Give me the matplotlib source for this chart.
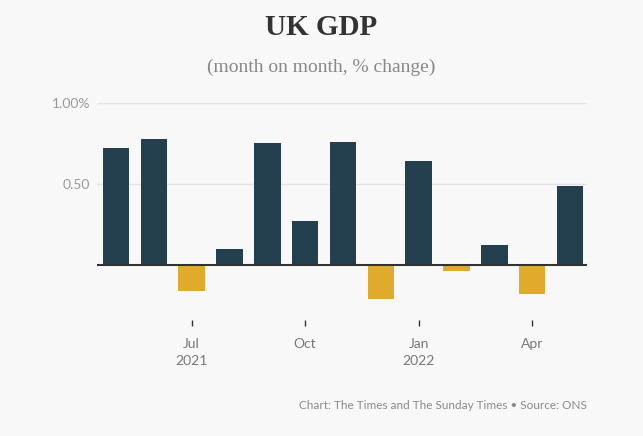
import matplotlib
matplotlib.use("Agg")
import matplotlib.pyplot as plt
import numpy as np

months = ["May 2021", "Jun 2021", "Jul 2021", "Aug 2021", "Sep 2021", "Oct 2021",
          "Nov 2021", "Dec 2021", "Jan 2022", "Feb 2022", "Mar 2022", "Apr 2022", "May 2022"]
gdp_change = [0.72, 0.78, -0.16, 0.10, 0.75, 0.27, 0.76, -0.21, 0.64, -0.04, 0.12, -0.18, 0.49]
tick_positions = [2, 5, 8, 11]
tick_labels = ["Jul\n2021", "Oct", "Jan\n2022", "Apr"]
ytick_values = [0.5, 1.0]
ytick_labels = ["0.50", "1.00%"]

BG = "#f8f8f8"
POS = "#24404f"
NEG = "#e0aa2c"

fig = plt.figure(figsize=(6.43, 4.36), dpi=100, facecolor=BG)
ax = fig.add_axes([0.151, 0.266, 0.762, 0.498], facecolor=BG)

x = np.arange(len(months))
colors = [POS if v >= 0 else NEG for v in gdp_change]
ax.bar(x, gdp_change, width=0.7, color=colors, zorder=3)

ax.set_xlim(-0.5, 12.45)
ax.set_ylim(-0.34, 1.0)

for yv in ytick_values:
    ax.axhline(yv, color="#e3e3e3", lw=1.0, zorder=1)
ax.axhline(0, color="#333333", lw=1.5, zorder=4)

for s in ax.spines.values():
    s.set_visible(False)

ax.set_xticks(tick_positions)
ax.set_xticklabels(tick_labels, fontfamily="Lato", fontsize=10, color="#777777", linespacing=1.5)
ax.tick_params(axis="x", length=4, width=1, color="#333333", pad=9)

ax.set_yticks(ytick_values)
ax.set_yticklabels(ytick_labels, fontfamily="Lato", fontsize=10, color="#999999")
ax.tick_params(axis="y", length=0, pad=5)

fig.text(0.5, 0.936, "UK GDP", ha="center", va="center", fontfamily="Liberation Serif",
         fontweight="bold", fontsize=21, color="#333333")
fig.text(0.5, 0.846, "(month on month, % change)", ha="center", va="center",
         fontfamily="Liberation Serif", fontsize=14, color="#888888")
fig.text(0.912, 0.07, "Chart: The Times and The Sunday Times \u2022 Source: ONS", ha="right",
         va="center", fontfamily="Lato", fontsize=8.5, color="#8a8a8a")

fig.savefig("out.png", dpi=100, facecolor=BG)
